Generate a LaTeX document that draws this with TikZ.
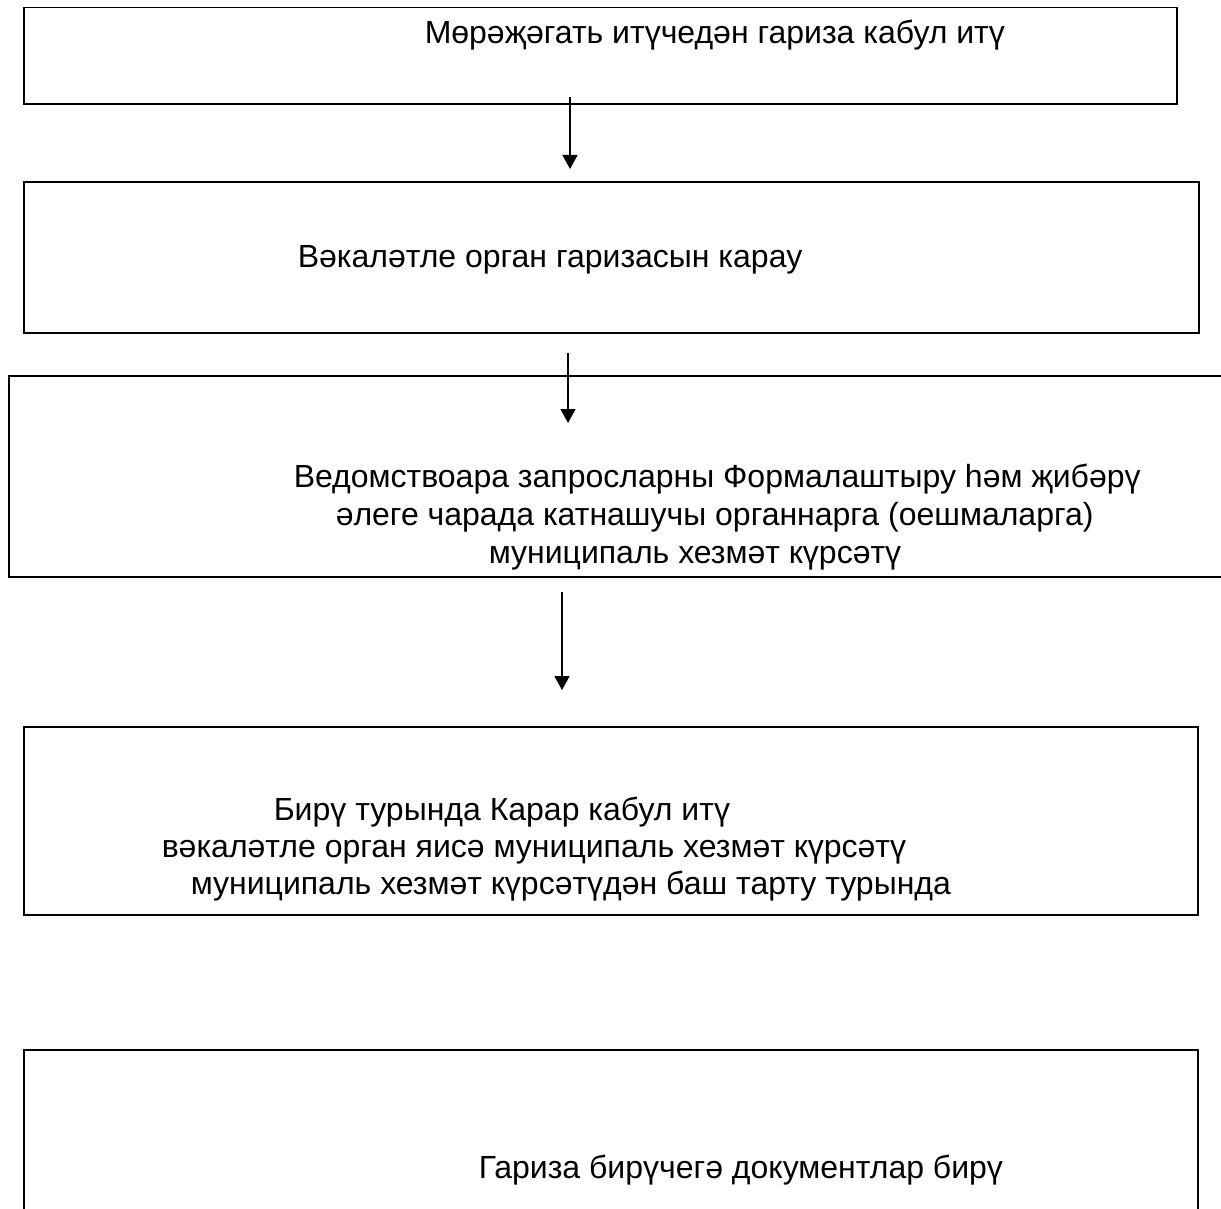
\documentclass[tikz,border=0pt]{standalone}
\usepackage{fontspec}
\setmainfont{Liberation Sans}
\usetikzlibrary{arrows.meta}

\begin{document}
\begin{tikzpicture}[x=1pt, y=-1pt, >={Triangle[width=15pt,length=14pt]}, line width=1.5pt,
    box/.style={draw, line width=1.6pt, inner sep=0pt},
    txt/.style={anchor=base west, inner sep=0pt, font=\fontsize{32}{37}\selectfont}]
    \useasboundingbox (0,0) rectangle (1221,1209);

    % блоклар
    \node[box, minimum width=1153, minimum height=96.5] (b1) at (600.5,55.75) {};
    \node[box, minimum width=1175, minimum height=151] (b2) at (611.5,257.5) {};
    \node[box, minimum width=1231, minimum height=201] (b3) at (624.5,476.5) {};
    \node[box, minimum width=1174, minimum height=188] (b4) at (611,821) {};
    \node[box, minimum width=1174, minimum height=210] (b5) at (611,1155) {};

    % текстлар
    \node[txt] (t1) at (424,44) {Мөрәҗәгать итүчедән гариза кабул итү};
    \node[txt] (t2) at (297,267) {Вәкаләтле орган гаризасын карау};
    \node[txt] (t3a) at (293,487) {Ведомствоара запросларны Формалаштыру һәм җибәрү};
    \node[txt] (t3b) at (335,525) {әлеге чарада катнашучы органнарга (оешмаларга)};
    \node[txt] (t3c) at (488,563) {муниципаль хезмәт күрсәтү};
    \node[txt] (t4a) at (273,820) {Бирү турында Карар кабул итү};
    \node[txt] (t4b) at (161,857) {вәкаләтле орган яисә муниципаль хезмәт күрсәтү};
    \node[txt] (t4c) at (190,894) {муниципаль хезмәт күрсәтүдән баш тарту турында};
    \node[txt] (t5) at (478,1178) {Гариза бирүчегә документлар бирү};

    % укчылар
    \coordinate (s1) at (570,97);  \coordinate (e1) at (570,169);
    \coordinate (s2) at (568,353); \coordinate (e2) at (568,423);
    \coordinate (s3) at (562,592); \coordinate (e3) at (562,690);
    \draw[->] (s1) -- (e1);
    \draw[->] (s2) -- (e2);
    \draw[->] (s3) -- (e3);
\end{tikzpicture}
\end{document}
